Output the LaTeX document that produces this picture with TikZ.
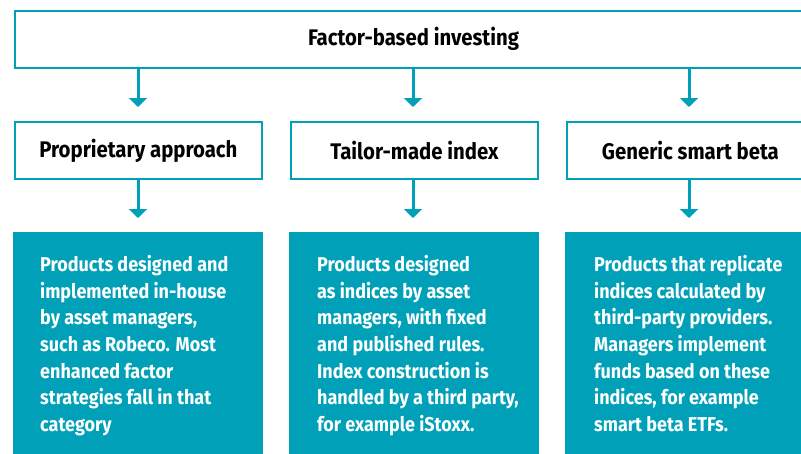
\documentclass[tikz,border=0pt]{standalone}
\usepackage{fontspec}
\setmainfont{Fira Sans}[FakeStretch=0.9]
\usetikzlibrary{arrows.meta}
\definecolor{teal}{RGB}{0,161,184}
\begin{document}
\begin{tikzpicture}[x=1pt,y=-1pt,
  font=\fontsize{20}{26.7}\selectfont\bfseries,
  headbox/.style={draw=teal,line width=1.8pt,fill=white,minimum height=57pt,anchor=north west,inner sep=0pt},
  headtext/.style={font=\fontsize{22.6}{26}\selectfont\bfseries},
  bodybox/.style={fill=teal,text=white,anchor=north west,minimum width=250pt,minimum height=240pt,inner sep=0pt},
  bodytext/.style={text=white,anchor=north west,align=left,inner sep=0pt},
  flow/.style={draw=teal,line width=3pt,-{Triangle[width=18pt,length=9pt]}}]
\useasboundingbox (0,0) rectangle (801,453);
\clip (0,0) rectangle (801,453);
% top box
\node[headbox,minimum width=799pt] (top) at (14,10) {};
\node[headtext] at (413.5,39) (toptxt) {Factor-based investing};
% second row
\node[headbox,minimum width=247pt] (p) at (14,121) {};
\node[headbox,minimum width=247pt] (t) at (290,121) {};
\node[headbox,minimum width=247pt] (g) at (566,121) {};
\node[headtext] at (p.center) {Proprietary approach};
\node[headtext] at (t.center) {Tailor-made index};
\node[headtext] at (g.center) {Generic smart beta};
% arrow targets
\coordinate (pa) at (138,107);
\coordinate (ta) at (413,107);
\coordinate (ga) at (689,107);
\coordinate (pb) at (138,218);
\coordinate (tb) at (413,218);
\coordinate (gb) at (689,218);
\draw[flow] (top.south -| pa) -- (pa);
\draw[flow] (top.south -| ta) -- (ta);
\draw[flow] (top.south -| ga) -- (ga);
\draw[flow] (p.south -| pb) -- (pb);
\draw[flow] (t.south -| tb) -- (tb);
\draw[flow] (g.south -| gb) -- (gb);
% third row
\node[bodybox] (pd) at (13,232) {};
\node[bodybox] (td) at (289,232) {};
\node[bodybox] (gd) at (565,232) {};
\node[bodytext] at (40,255) {Products designed and\\implemented in-house\\by asset managers,\\such as Robeco. Most\\enhanced factor\\strategies fall in that\\category};
\node[bodytext] at (317,255) {Products designed\\as indices by asset\\managers, with fixed\\and published rules.\\Index construction is\\handled by a third party,\\for example iStoxx.};
\node[bodytext] at (594,255) {Products that replicate\\indices calculated by\\third-party providers.\\Managers implement\\funds based on these\\indices, for example\\smart beta ETFs.};
\end{tikzpicture}
\end{document}
